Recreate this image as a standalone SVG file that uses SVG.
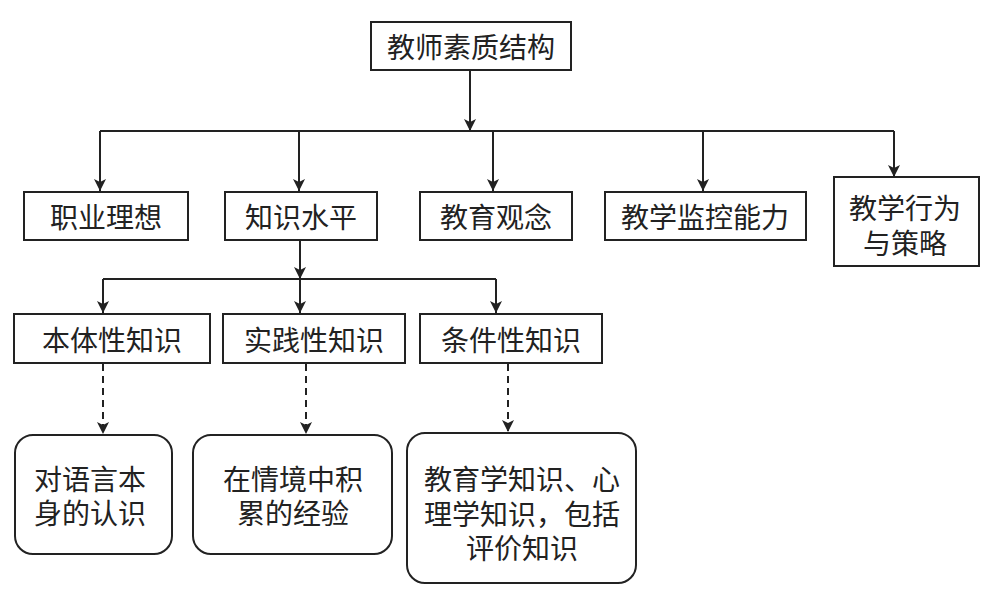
<svg xmlns="http://www.w3.org/2000/svg" width="1000" height="603" viewBox="0 0 1000 603">
<style>
.box{fill:#fff;stroke:#222;stroke-width:2}
.t{font-family:"Noto Sans CJK SC","Liberation Sans",sans-serif;font-size:28px;fill:#222;text-anchor:middle;dominant-baseline:central}
.ln{fill:none;stroke:#222;stroke-width:2}
.ar{fill:none;stroke:#222;stroke-width:2;marker-end:url(#ah)}
.da{fill:none;stroke:#222;stroke-width:2;stroke-dasharray:7 5;marker-end:url(#ah)}
</style>
<defs>
<marker id="ah" viewBox="0 0 12 12" refX="12" refY="6" markerWidth="12" markerHeight="12" markerUnits="userSpaceOnUse" orient="auto">
<path d="M0,0 L12,6 L0,12 L3,6 z" fill="#222"/>
</marker>
</defs>
<rect width="1000" height="603" fill="#fff"/>
<g id="connectors">
<path class="ar" d="M470,70 V131"/>
<path class="ln" d="M100,131 H894"/>
<path class="ar" d="M100,131 V191"/>
<path class="ar" d="M299,131 V191"/>
<path class="ar" d="M493,131 V191"/>
<path class="ar" d="M703,131 V191"/>
<path class="ar" d="M894,131 V177"/>
<path class="ar" d="M300,240 V279"/>
<path class="ln" d="M103,279 H496"/>
<path class="ar" d="M103,279 V313"/>
<path class="ar" d="M300,279 V313"/>
<path class="ar" d="M496,279 V313"/>
<path class="da" d="M103,364 V434"/>
<path class="da" d="M306,364 V434"/>
<path class="da" d="M508,364 V432"/>
</g>
<g id="root"><rect class="box" x="371" y="22" width="200" height="48"/><text class="t" x="471" y="46">教师素质结构</text></g>
<g id="n1"><rect class="box" x="24" y="192" width="164" height="48"/><text class="t" x="106" y="216">职业理想</text></g>
<g id="n2"><rect class="box" x="225" y="192" width="152" height="48"/><text class="t" x="301" y="216">知识水平</text></g>
<g id="n3"><rect class="box" x="420" y="192" width="152" height="48"/><text class="t" x="496" y="216">教育观念</text></g>
<g id="n4"><rect class="box" x="605" y="192" width="201" height="48"/><text class="t" x="705" y="216">教学监控能力</text></g>
<g id="n5"><rect class="box" x="834" y="177" width="145" height="89"/><text class="t" x="905" y="207">教学行为</text><text class="t" x="905" y="242">与策略</text></g>
<g id="k1"><rect class="box" x="14" y="314" width="196" height="49"/><text class="t" x="112" y="339">本体性知识</text></g>
<g id="k2"><rect class="box" x="223" y="314" width="182" height="49"/><text class="t" x="314" y="339">实践性知识</text></g>
<g id="k3"><rect class="box" x="420" y="314" width="182" height="49"/><text class="t" x="511" y="339">条件性知识</text></g>
<g id="d1"><rect class="box" x="15" y="435" width="157" height="119" rx="18"/><text class="t" x="90" y="478">对语言本</text><text class="t" x="90" y="512">身的认识</text></g>
<g id="d2"><rect class="box" x="193" y="435" width="199" height="119" rx="18"/><text class="t" x="293" y="478">在情境中积</text><text class="t" x="293" y="512">累的经验</text></g>
<g id="d3"><rect class="box" x="407" y="433" width="229" height="150" rx="18"/><text class="t" x="522" y="478">教育学知识、心</text><text class="t" x="522" y="513">理学知识，包括</text><text class="t" x="522" y="547">评价知识</text></g>
</svg>
